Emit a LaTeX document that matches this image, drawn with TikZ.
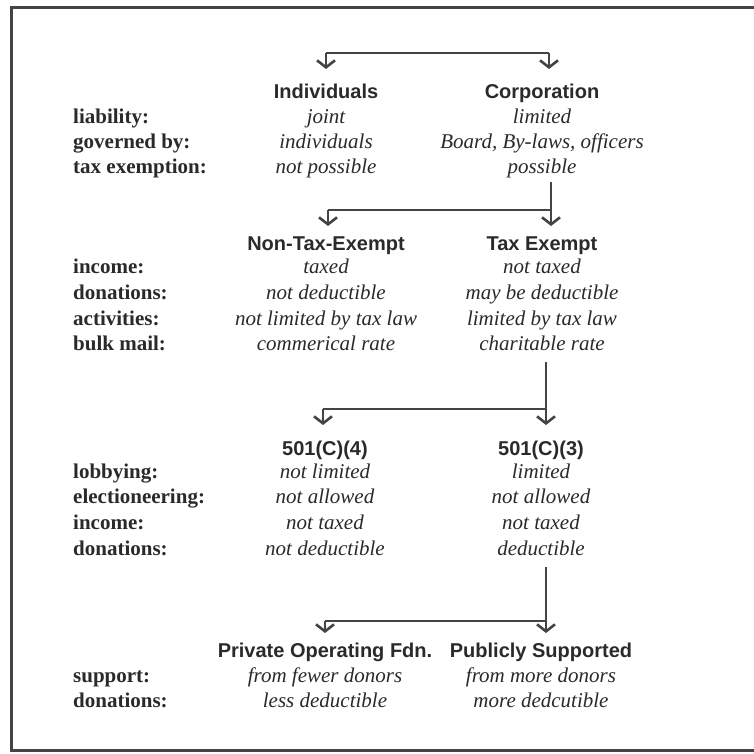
\documentclass[tikz,border=0pt]{standalone}
\usepackage{fontspec}
\setmainfont{Liberation Serif}
\newfontfamily\hdrfont{Liberation Sans}
\usetikzlibrary{arrows.meta}
\definecolor{ink}{HTML}{2A2A2A}
\definecolor{rule}{HTML}{444444}
\tikzset{
  hdr/.style={anchor=base, inner sep=0pt, text=ink, font=\hdrfont\bfseries\fontsize{20}{24}\selectfont},
  lbl/.style={anchor=base west, inner sep=0pt, text=ink, font=\bfseries\fontsize{21}{25}\selectfont},
  val/.style={anchor=base, inner sep=0pt, text=ink, font=\itshape\fontsize{21}{25}\selectfont},
  conn/.style={draw=rule, line width=2.6pt},
  arr/.style={conn, -{Straight Barb[length=7pt,width=18pt]}},
  frame/.style={draw=rule, line width=3pt}
}
\begin{document}
\begin{tikzpicture}[x=1pt,y=-1pt]
\useasboundingbox (0,0) rectangle (754,753);
\fill[white] (0,0) rectangle (754,753);
\draw[frame] (760,7) -- (11,7) -- (11,750) -- (760,750);

% columns
\def\lx{73}
\def\ca{326}
\def\cb{542}

% Block 1
\node[hdr] (indiv) at (\ca,98) {Individuals};
\node[hdr] (corp) at (\cb,98) {Corporation};
\node[lbl] (l11) at (\lx,123) {liability:};
\node[val] (a11) at (\ca,123) {joint};
\node[val] (b11) at (\cb,123) {limited};
\node[lbl] (l12) at (\lx,148) {governed by:};
\node[val] (a12) at (\ca,148) {individuals};
\node[val] (b12) at (\cb,148) {Board, By-laws, officers};
\node[lbl] (l13) at (\lx,173) {tax exemption:};
\node[val] (a13) at (\ca,173) {not possible};
\node[val] (b13) at (\cb,173) {possible};

% Block 2
\node[hdr] (ntx) at (\ca,250) {Non-Tax-Exempt};
\node[hdr] (tx) at (\cb,250) {Tax Exempt};
\node[lbl] (l21) at (\lx,273) {income:};
\node[val] (a21) at (\ca,273) {taxed};
\node[val] (b21) at (\cb,273) {not taxed};
\node[lbl] (l22) at (\lx,299) {donations:};
\node[val] (a22) at (\ca,299) {not deductible};
\node[val] (b22) at (\cb,299) {may be deductible};
\node[lbl] (l23) at (\lx,325) {activities:};
\node[val] (a23) at (\ca,325) {not limited by tax law};
\node[val] (b23) at (\cb,325) {limited by tax law};
\node[lbl] (l24) at (\lx,350) {bulk mail:};
\node[val] (a24) at (\ca,350) {commerical rate};
\node[val] (b24) at (\cb,350) {charitable rate};

% Block 3
\node[hdr] (c4) at (325,455) {501(C)(4)};
\node[hdr] (c3) at (541,455) {501(C)(3)};
\node[lbl] (l31) at (\lx,478) {lobbying:};
\node[val] (a31) at (325,478) {not limited};
\node[val] (b31) at (541,478) {limited};
\node[lbl] (l32) at (\lx,503) {electioneering:};
\node[val] (a32) at (325,503) {not allowed};
\node[val] (b32) at (541,503) {not allowed};
\node[lbl] (l33) at (\lx,529) {income:};
\node[val] (a33) at (325,529) {not taxed};
\node[val] (b33) at (541,529) {not taxed};
\node[lbl] (l34) at (\lx,555) {donations:};
\node[val] (a34) at (325,555) {not deductible};
\node[val] (b34) at (541,555) {deductible};

% Block 4
\node[hdr] (pof) at (325,657) {Private Operating Fdn.};
\node[hdr] (pub) at (541,657) {Publicly Supported};
\node[lbl] (l41) at (\lx,682) {support:};
\node[val] (a41) at (325,682) {from fewer donors};
\node[val] (b41) at (541,682) {from more donors};
\node[lbl] (l42) at (\lx,707) {donations:};
\node[val] (a42) at (325,707) {less deductible};
\node[val] (b42) at (541,707) {more dedcutible};

% connector 1
\coordinate (k1l) at (326,53);
\coordinate (k1r) at (549,53);
\coordinate (t1l) at (326,69);
\coordinate (t1r) at (549,69);
\draw[conn] (k1l) -- (k1r);
\draw[arr] (k1l) -- (t1l);
\draw[arr] (k1r) -- (t1r);

% connector 2
\coordinate (s2) at (551,182);
\coordinate (k2l) at (328,210);
\coordinate (k2r) at (551,210);
\coordinate (t2l) at (328,226);
\coordinate (t2r) at (551,226);
\draw[arr] (s2) -- (t2r);
\draw[conn] (k2r) -- (k2l);
\draw[arr] (k2l) -- (t2l);

% connector 3
\coordinate (s3) at (546,362);
\coordinate (k3l) at (323,409);
\coordinate (k3r) at (546,409);
\coordinate (t3l) at (323,425);
\coordinate (t3r) at (546,425);
\draw[arr] (s3) -- (t3r);
\draw[conn] (k3r) -- (k3l);
\draw[arr] (k3l) -- (t3l);

% connector 4
\coordinate (s4) at (546,567);
\coordinate (k4l) at (325,621);
\coordinate (k4r) at (546,621);
\coordinate (t4l) at (325,633);
\coordinate (t4r) at (546,633);
\draw[arr] (s4) -- (t4r);
\draw[conn] (k4r) -- (k4l);
\draw[arr] (k4l) -- (t4l);
\end{tikzpicture}
\end{document}
